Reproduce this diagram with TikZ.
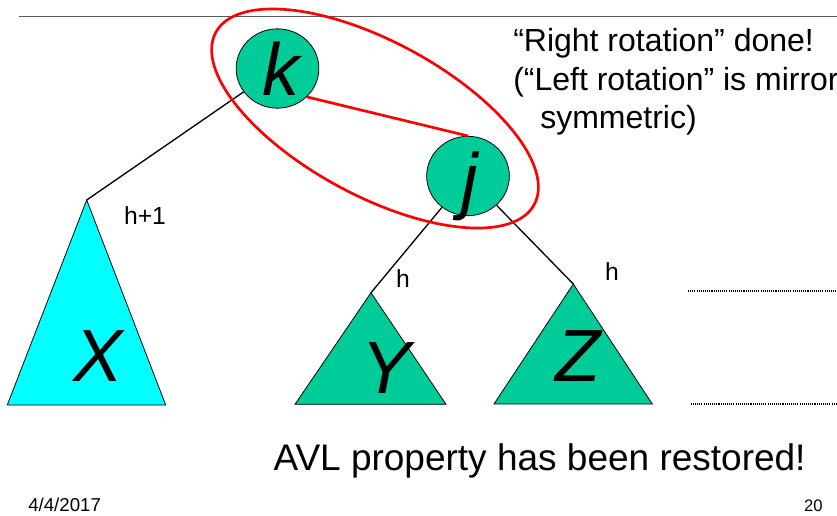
\documentclass[tikz,border=0pt]{standalone}
\usepackage{fontspec}
\setmainfont{Liberation Sans}
\usetikzlibrary{shapes.geometric}
\definecolor{treeteal}{HTML}{00CC99}
\definecolor{treecyan}{HTML}{00FFFF}
\definecolor{rulegray}{HTML}{595959}

\begin{document}
\begin{tikzpicture}[x=0.75pt,y=-0.75pt,
  keynode/.style={ellipse,draw=black,line width=0.6pt,fill=treeteal,
    minimum width=62pt,minimum height=59.5pt,inner sep=0pt},
  subtree/.style={draw=black,line width=0.6pt},
  treeedge/.style={draw=black,line width=1pt},
  redmark/.style={draw=red,line width=2pt},
  bigletter/.style={anchor=base,inner sep=0pt,font=\fontsize{55.5}{60}\selectfont\itshape},
  hlabel/.style={anchor=base,inner sep=0pt,font=\fontsize{18.5}{22}\selectfont},
  slidetext/.style={anchor=base west,inner sep=0pt,font=\fontsize{24}{28}\selectfont},
  dotline/.style={draw=black,line width=1pt,dash pattern=on 0.8pt off 0.8pt}]
\clip (0,0) rectangle (837,515);
\fill[white] (0,0) rectangle (837,515);
\draw[rulegray,line width=0.8pt] (19,16.7) -- (837,16.7);
\coordinate (xtop) at (86.7,200);
\coordinate (ytop) at (371,292.7);
\coordinate (ztop) at (573.3,284);
\filldraw[subtree,fill=treecyan] (xtop) -- (7.3,405) -- (165.7,405) -- cycle;
\filldraw[subtree,fill=treeteal] (ytop) -- (295,404.3) -- (446,404.3) -- cycle;
\filldraw[subtree,fill=treeteal] (ztop) -- (494,404) -- (652.3,404) -- cycle;
\node[keynode] (k) at (277.5,68.5) {};
\node[keynode] (j) at (468,176) {};
\draw[treeedge] (k) -- (xtop);
\draw[treeedge] (j) -- (ytop);
\draw[treeedge] (j) -- (ztop);
\draw[redmark] (k.-44) -- (j.north);
\draw[redmark,rotate around={-28.4:(375,118.5)}] (375,118.5) ellipse [x radius=181,y radius=77];
\node[bigletter] (kl) at (281,95) {k};
\node[bigletter] (jl) at (470,205) {j};
\node[bigletter] (xl) at (98,381.7) {X};
\node[bigletter] (yl) at (386,393) {Y};
\node[bigletter] (zl) at (578,381.7) {Z};
\node[hlabel] (hx) at (145,224) {h+1};
\node[hlabel] (hy) at (403,287.3) {h};
\node[hlabel] (hz) at (612,280) {h};
\draw[dotline] (688,291) -- (837,291);
\draw[dotline] (690.7,404) -- (837,404);
\node[slidetext] (t1) at (513,51.7) {“Right rotation” done!};
\node[slidetext] (t2) at (513,90.5) {(“Left rotation” is mirror};
\node[slidetext] (t3) at (540,128.3) {symmetric)};
\node[anchor=base west,inner sep=0pt,font=\fontsize{27.75}{32}\selectfont] (avl) at (273.3,470.7) {AVL property has been restored!};
\node[anchor=base west,inner sep=0pt,font=\fontsize{14}{16}\selectfont] (date) at (28,511) {4/4/2017};
\node[anchor=base east,inner sep=0pt,font=\fontsize{12.5}{14}\selectfont] (pg) at (823,511.7) {20};
\end{tikzpicture}
\end{document}
